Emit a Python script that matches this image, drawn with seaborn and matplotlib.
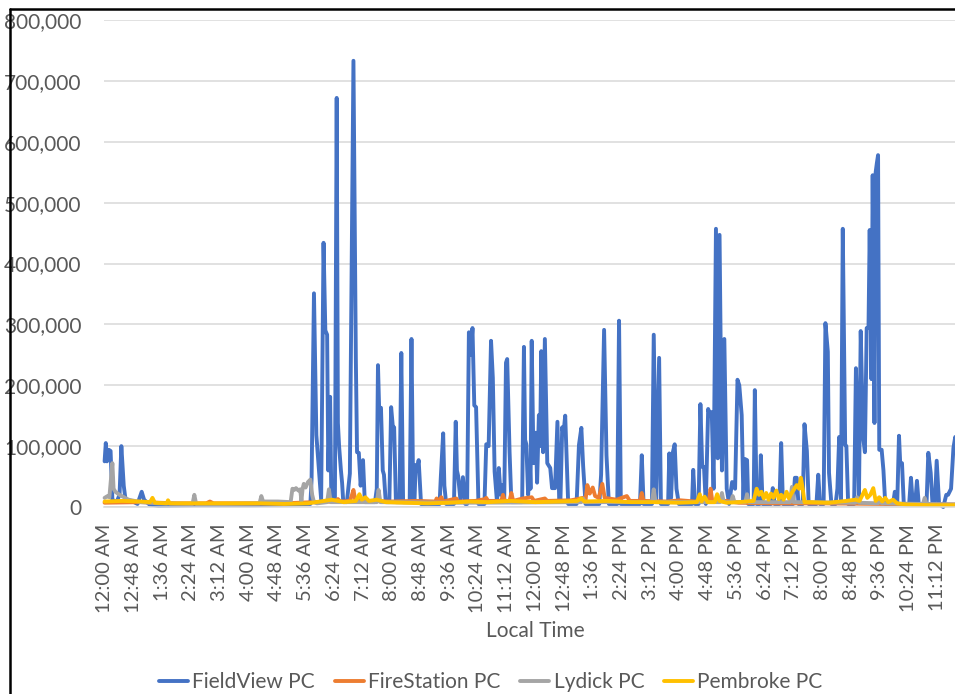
import matplotlib
matplotlib.use('Agg')
import matplotlib.pyplot as plt
import seaborn as sns
import pandas as pd
from matplotlib.lines import Line2D
from matplotlib.ticker import FuncFormatter

# minute of day, value
fieldview_pts = [
    (0, 75000), (2, 105000), (4, 75000), (7, 94000), (10, 92000), (13, 12000), (20, 8000), (25, 20000),
    (28, 100000), (32, 35000), (35, 12000), (45, 10000), (55, 5000), (62, 25000), (66, 12000), (75, 4000),
    (90, 2000), (150, 3000), (250, 3000), (344, 5000),
    (346, 45000), (350, 351000), (354, 118000), (358, 66000), (362, 12000), (366, 434000), (369, 290000),
    (372, 283000), (374, 60000), (377, 181000), (379, 15000), (385, 10000), (388, 672000), (390, 138000),
    (392, 100000), (395, 61000), (397, 40000), (399, 8000),
    (405, 8000), (410, 55000), (416, 733000), (420, 243000), (422, 90000), (425, 89000), (428, 35000),
    (432, 77000), (435, 8000),
    (452, 8000), (455, 30000), (457, 233000), (459, 160000), (462, 163000), (465, 60000), (467, 53000), (470, 8000),
    (476, 8000), (479, 164000), (482, 130000), (484, 131000), (487, 8000),
    (493, 8000), (496, 253000), (499, 8000),
    (510, 8000), (513, 276000), (516, 8000),
    (518, 8000), (520, 69000), (522, 60000), (525, 77000), (529, 5000),
    (560, 5000), (562, 48000), (566, 121000), (568, 35000), (571, 5000),
    (584, 5000), (587, 140000), (589, 60000), (591, 51000), (595, 10000), (599, 49000), (603, 5000),
    (606, 5000), (609, 287000), (612, 250000), (615, 294000), (618, 167000), (621, 164000), (625, 5000),
    (635, 5000), (638, 103000), (642, 100000), (646, 273000), (649, 212000), (652, 58000), (656, 8000),
    (659, 64000), (662, 20000), (665, 36000), (668, 8000),
    (671, 237000), (673, 243000), (677, 90000), (680, 8000),
    (698, 8000), (701, 263000), (703, 110000), (705, 103000), (708, 20000), (711, 66000), (712, 30000),
    (714, 273000), (717, 72000), (721, 122000), (723, 40000), (726, 151000), (728, 100000), (730, 256000),
    (733, 90000), (736, 276000), (740, 72000), (745, 64000), (748, 31000), (753, 31000), (757, 140000),
    (760, 10000), (762, 10000), (765, 131000), (767, 120000), (770, 150000), (775, 5000),
    (789, 5000), (793, 102000), (797, 130000), (800, 67000), (804, 5000),
    (827, 5000), (830, 53000), (835, 291000), (839, 85000), (843, 5000),
    (857, 5000), (860, 306000), (863, 5000),
    (895, 5000), (898, 85000), (901, 5000),
    (915, 5000), (918, 283000), (922, 10000), (927, 245000), (930, 5000),
    (942, 5000), (944, 88000), (947, 15000), (950, 90000), (953, 103000), (956, 30000), (960, 5000),
    (982, 5000), (984, 61000), (987, 5000),
    (993, 5000), (996, 169000), (999, 66000), (1002, 66000), (1005, 5000), (1009, 161000), (1012, 150000),
    (1015, 156000), (1018, 30000), (1022, 457000), (1025, 80000), (1028, 447000), (1032, 60000),
    (1036, 276000), (1040, 30000), (1044, 5000), (1049, 41000), (1054, 30000), (1058, 209000),
    (1061, 200000), (1065, 151000), (1068, 10000), (1070, 79000), (1074, 77000), (1076, 5000),
    (1085, 5000), (1087, 192000), (1090, 5000), (1095, 5000), (1097, 85000), (1100, 5000),
    (1114, 5000), (1117, 31000), (1120, 5000),
    (1128, 5000), (1131, 105000), (1134, 5000),
    (1151, 5000), (1154, 48000), (1157, 48000), (1160, 5000),
    (1167, 5000), (1170, 136000), (1174, 92000), (1177, 5000),
    (1190, 5000), (1193, 53000), (1196, 5000),
    (1202, 5000), (1205, 302000), (1209, 255000), (1211, 56000), (1215, 5000),
    (1222, 5000), (1225, 30000), (1228, 115000), (1231, 10000), (1234, 457000), (1238, 102000),
    (1240, 100000), (1243, 5000),
    (1253, 5000), (1256, 228000), (1259, 110000), (1261, 10000), (1264, 289000), (1268, 115000),
    (1271, 90000), (1274, 294000), (1277, 294000), (1279, 455000), (1282, 210000), (1284, 545000),
    (1287, 138000), (1289, 550000), (1291, 565000), (1293, 578000), (1295, 94000), (1299, 94000),
    (1302, 60000), (1305, 5000),
    (1318, 5000), (1321, 25000), (1325, 5000), (1328, 117000), (1330, 72000), (1333, 72000), (1336, 5000),
    (1345, 5000), (1348, 48000), (1351, 5000), (1355, 5000), (1358, 43000), (1361, 5000),
    (1374, 5000), (1377, 89000), (1381, 56000), (1384, 5000),
    (1388, 5000), (1391, 76000), (1395, 5000),
    (1402, 0), (1407, 20000), (1410, 20000), (1415, 30000), (1419, 97000), (1422, 115000),
    (1426, 60000), (1432, 5000), (1439, 5000),
]

firestation_pts = [
    (0, 7000), (60, 8000), (120, 6000), (170, 6000), (176, 9000), (182, 6000), (240, 6000), (300, 6000),
    (350, 8000), (385, 9000), (390, 13000), (394, 9000), (410, 10000), (413, 18000), (416, 28000),
    (419, 12000), (440, 10000), (480, 9000), (520, 10000), (553, 9000), (555, 14000), (558, 9000),
    (563, 16000), (566, 9000), (588, 14000), (591, 9000), (620, 10000), (636, 13000), (638, 15000),
    (641, 10000), (663, 10000), (666, 20000), (669, 10000), (677, 10000), (680, 23000), (683, 10000),
    (699, 14000), (714, 16000), (718, 10000), (736, 14000), (740, 10000), (780, 11000), (800, 15000),
    (804, 12000), (807, 36000), (811, 22000), (816, 32000), (820, 18000), (826, 15000), (832, 38000),
    (836, 15000), (856, 12000), (873, 18000), (878, 10000), (895, 10000), (898, 23000), (901, 10000),
    (940, 9000), (962, 11000), (1000, 8000), (1010, 9000), (1013, 30000), (1016, 9000), (1039, 10000),
    (1060, 7000), (1120, 6000), (1200, 6000), (1300, 5000), (1439, 4000),
]

lydick_pts = [
    (0, 15000), (5, 18000), (8, 16000), (11, 50000), (13, 72000), (15, 30000), (18, 25000), (25, 20000),
    (40, 12000), (60, 8000), (90, 6000), (147, 5000), (150, 20000), (153, 5000), (200, 5000), (259, 6000),
    (262, 18000), (265, 9000), (290, 9000), (311, 8000), (314, 30000), (317, 28000), (320, 31000),
    (324, 27000), (327, 29000), (329, 10000), (331, 30000), (333, 38000), (336, 32000), (340, 41000),
    (344, 45000), (347, 20000), (350, 8000), (355, 6000), (372, 8000), (375, 29000), (378, 8000),
    (455, 8000), (458, 28000), (461, 8000), (600, 7000), (797, 8000), (800, 14000), (803, 8000),
    (915, 8000), (918, 29000), (921, 8000), (1029, 8000), (1032, 23000), (1035, 8000), (1047, 8000),
    (1050, 18000), (1053, 8000), (1071, 8000), (1074, 21000), (1077, 8000), (1146, 8000), (1149, 33000),
    (1152, 8000), (1255, 7000), (1258, 16000), (1261, 7000), (1293, 6000), (1296, 15000), (1299, 6000),
    (1368, 5000), (1371, 15000), (1374, 5000), (1439, 4000),
]

pembroke_pts = [
    (0, 9000), (30, 10000), (60, 9000), (76, 8000), (80, 15000), (84, 7000), (104, 6000), (106, 11000),
    (109, 6000), (150, 6000), (200, 6000), (260, 6000), (300, 5000), (340, 6000), (360, 9000), (380, 12000),
    (400, 8000), (420, 10000), (426, 21000), (430, 12000), (436, 16000), (442, 10000), (455, 12000),
    (470, 8000), (500, 7000), (540, 6000), (575, 7000), (610, 9000), (640, 8000), (680, 10000), (720, 8000),
    (760, 9000), (790, 10000), (797, 14000), (802, 9000), (840, 10000), (880, 8000), (920, 8000),
    (960, 7000), (990, 8000), (995, 21000), (998, 9000), (1003, 17000), (1008, 8000), (1020, 8000),
    (1024, 21000), (1028, 10000), (1040, 7000), (1060, 8000), (1085, 10000), (1090, 30000), (1094, 20000),
    (1098, 25000), (1102, 14000), (1106, 23000), (1110, 12000), (1114, 22000), (1118, 15000),
    (1123, 27000), (1127, 13000), (1131, 20000), (1135, 12000), (1140, 25000), (1144, 14000),
    (1148, 22000), (1152, 28000), (1157, 36000), (1161, 30000), (1164, 48000), (1167, 30000),
    (1170, 8000), (1180, 8000), (1210, 7000), (1240, 10000), (1255, 12000), (1262, 10000), (1268, 22000),
    (1271, 28000), (1275, 15000), (1280, 20000), (1285, 31000), (1289, 10000), (1295, 16000),
    (1300, 9000), (1305, 15000), (1310, 8000), (1318, 12000), (1325, 6000), (1340, 4000), (1380, 3000),
    (1439, 3000),
]

series_names = ['FieldView PC', 'FireStation PC', 'Lydick PC', 'Pembroke PC']
series_colors = ['#4472C4', '#ED7D31', '#A5A5A5', '#FFC000']

x_tick_labels = ['12:00 AM', '12:48 AM', '1:36 AM', '2:24 AM', '3:12 AM', '4:00 AM', '4:48 AM', '5:36 AM',
                 '6:24 AM', '7:12 AM', '8:00 AM', '8:48 AM', '9:36 AM', '10:24 AM', '11:12 AM', '12:00 PM',
                 '12:48 PM', '1:36 PM', '2:24 PM', '3:12 PM', '4:00 PM', '4:48 PM', '5:36 PM', '6:24 PM',
                 '7:12 PM', '8:00 PM', '8:48 PM', '9:36 PM', '10:24 PM', '11:12 PM']
y_ticks = [0, 100000, 200000, 300000, 400000, 500000, 600000, 700000, 800000]

sns.set_theme(style='white')
plt.rcParams['font.family'] = ['Lato', 'DejaVu Sans']
grey_text = '#595959'

fig = plt.figure(figsize=(9.55, 6.94), dpi=100)
# plot area runs off the right edge, like the cropped screenshot
ax = fig.add_axes([104 / 955, 187 / 694, 862 / 955, 487 / 694])

all_pts = [fieldview_pts, firestation_pts, lydick_pts, pembroke_pts]
for name, pts, col in zip(series_names, all_pts, series_colors):
    df = pd.DataFrame(pts, columns=['minute', 'value'])
    sns.lineplot(data=df, x='minute', y='value', ax=ax, color=col, linewidth=2.8,
                 estimator=None, errorbar=None, legend=False,
                 solid_capstyle='round', solid_joinstyle='round', clip_on=False)

ax.set_xlim(-1, 1440)
ax.set_ylim(0, 800000)
ax.set_yticks(y_ticks)
ax.yaxis.set_major_formatter(FuncFormatter(lambda v, p: f'{int(v):,}'))
ax.set_xticks([i * 48 for i in range(len(x_tick_labels))])
ax.set_xticklabels(x_tick_labels, rotation=90)
ax.tick_params(axis='both', length=0, labelcolor=grey_text)
ax.tick_params(axis='x', pad=12, labelsize=14.5)
ax.tick_params(axis='y', pad=16, labelsize=15)
ax.set_xlabel('Local Time', fontsize=15, color=grey_text, labelpad=6)
ax.set_ylabel('')

ax.set_axisbelow(True)
ax.yaxis.grid(True, color='#D9D9D9', linewidth=1.1)
ax.xaxis.grid(False)
for s in ['top', 'right', 'left']:
    ax.spines[s].set_visible(False)
ax.spines['bottom'].set_color('#D9D9D9')
ax.spines['bottom'].set_linewidth(1.1)

handles = [Line2D([0], [0], color=c, linewidth=2.8) for c in series_colors]
fig.legend(handles, series_names, loc='center', bbox_to_anchor=(0.514, 0.017), ncol=4, frameon=False,
           fontsize=15, handlelength=1.4, handletextpad=0.2, columnspacing=0.95, labelcolor=grey_text)

# chart border (left and top edges visible in the crop)
fig.add_artist(Line2D([9.5 / 955, 9.5 / 955], [0, 1 - 8.5 / 694], transform=fig.transFigure,
                      color='black', linewidth=1.8, zorder=10))
fig.add_artist(Line2D([9.5 / 955, 1], [1 - 8.5 / 694, 1 - 8.5 / 694], transform=fig.transFigure,
                      color='black', linewidth=1.8, zorder=10))

fig.savefig('out.png', dpi=100)
